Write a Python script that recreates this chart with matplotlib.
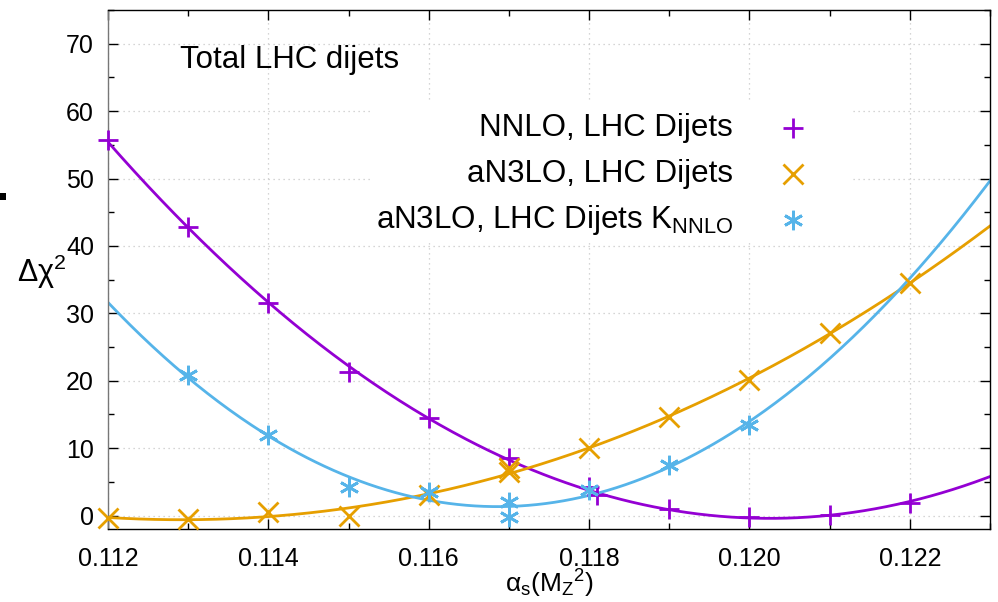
import matplotlib
matplotlib.use("Agg")
import matplotlib.pyplot as plt
from matplotlib.patches import Rectangle
import numpy as np

plt.rcParams['font.family'] = ['Liberation Sans', 'DejaVu Sans']
plt.rcParams['mathtext.fontset'] = 'custom'
plt.rcParams['mathtext.rm'] = 'Liberation Sans'
plt.rcParams['mathtext.it'] = 'Liberation Sans'
plt.rcParams['mathtext.default'] = 'regular'

###############################################################################
#                                   Data                                      #
###############################################################################
# NNLO, LHC dijets (purple +)
nnlo_x = [0.112, 0.113, 0.114, 0.115, 0.116, 0.117, 0.118, 0.1181, 0.119, 0.120, 0.121, 0.122]
nnlo_y = [55.7, 42.8, 31.5, 21.3, 14.5, 8.5, 4.3, 3.0, 1.0, -0.2, 0.1, 1.8]

# aN3LO, LHC dijets (orange x)
an3lo_x = [0.112, 0.113, 0.114, 0.115, 0.116, 0.117, 0.117, 0.118, 0.119, 0.120, 0.121, 0.122]
an3lo_y = [-0.4, -0.5, 0.5, 0.0, 3.0, 6.4, 7.0, 10.0, 14.6, 20.1, 27.1, 34.5]

# aN3LO, LHC dijets K_NNLO (blue *)
knnlo_x = [0.113, 0.114, 0.115, 0.116, 0.117, 0.117, 0.118, 0.119, 0.120]
knnlo_y = [20.8, 11.9, 4.3, 3.5, 2.0, -0.2, 3.8, 7.5, 13.5]

labels = ["NNLO, LHC Dijets", "aN3LO, LHC Dijets", r"aN3LO, LHC Dijets K$_{NNLO}$"]
colors = ["#9400d3", "#e69f00", "#56b4e9"]
markers = ["+", "x", (6, 2, 0)]
fit_deg = [2, 3, 2]

###############################################################################
#                                  Plotting                                   #
###############################################################################
fig = plt.figure(figsize=(9.98, 6.02), dpi=100)
ax = fig.add_axes([108 / 998, 73 / 602, 882 / 998, 519 / 602])

xfine = np.linspace(0.112, 0.123, 400)
series = [(nnlo_x, nnlo_y), (an3lo_x, an3lo_y), (knnlo_x, knnlo_y)]
for (xs, ys), col, mk, deg in zip(series, colors, markers, fit_deg):
    # smooth polynomial fit drawn through the points
    coef = np.polyfit(xs, ys, deg)
    ax.plot(xfine, np.polyval(coef, xfine), color=col, lw=2.0, zorder=2)
    ax.plot(xs, ys, linestyle="none", marker=mk, color=col, ms=14, mew=2,
            clip_on=False, zorder=3)

ax.set_xlim(0.112, 0.123)
ax.set_ylim(-2, 75)
ax.set_xticks(np.arange(0.112, 0.1231, 0.002))
ax.set_xticklabels(["%.3f" % v for v in np.arange(0.112, 0.1231, 0.002)])
ax.set_xticks(np.arange(0.113, 0.1231, 0.002), minor=True)
ax.set_yticks(np.arange(0, 71, 10))
ax.set_yticks(np.arange(5, 76, 10), minor=True)
ax.tick_params(which="both", direction="in", top=True, right=True, labelsize=18)
ax.tick_params(which="major", length=7, width=1)
ax.tick_params(which="minor", length=4, width=1)
ax.tick_params(axis="x", pad=13)
ax.tick_params(axis="y", pad=10)

ax.set_axisbelow(True)
ax.grid(True, which="major", color="#c8c8c8", lw=0.9, linestyle=(0, (1, 3)))
for s in ax.spines.values():
    s.set_linewidth(1.0)
ax.spines["left"].set_color("#777777")

ax.set_xlabel(r"$\alpha_s(M_Z{}^2)$", fontsize=19, labelpad=-2)
fig.text(17 / 998, 1 - 272 / 602, r"Δχ$^2$", fontsize=22, ha="left", va="center")

ax.text(0.0816, 0.9037, "Total LHC dijets", transform=ax.transAxes,
        fontsize=22.5, ha="left", va="center")

# key, drawn on an opaque white box like gnuplot
ax.add_patch(Rectangle((0.30, 0.555), 0.545, 0.265, transform=ax.transAxes,
                       facecolor="white", edgecolor="none", zorder=1))
key_y = [0.7726, 0.684, 0.5954]
for lab, col, mk, ky in zip(labels, colors, markers, key_y):
    ax.text(0.7086, ky, lab, transform=ax.transAxes, fontsize=22.5,
            ha="right", va="center", zorder=4)
    ax.plot([0.7766], [ky], transform=ax.transAxes, linestyle="none", marker=mk,
            color=col, ms=14, mew=2, zorder=4)

# small black mark at the left edge of the original image
fig.patches.append(Rectangle((0, 1 - 200 / 602), 6 / 998, 7 / 602,
                             transform=fig.transFigure, facecolor="black",
                             edgecolor="none"))

fig.savefig("out.png", dpi=100)
